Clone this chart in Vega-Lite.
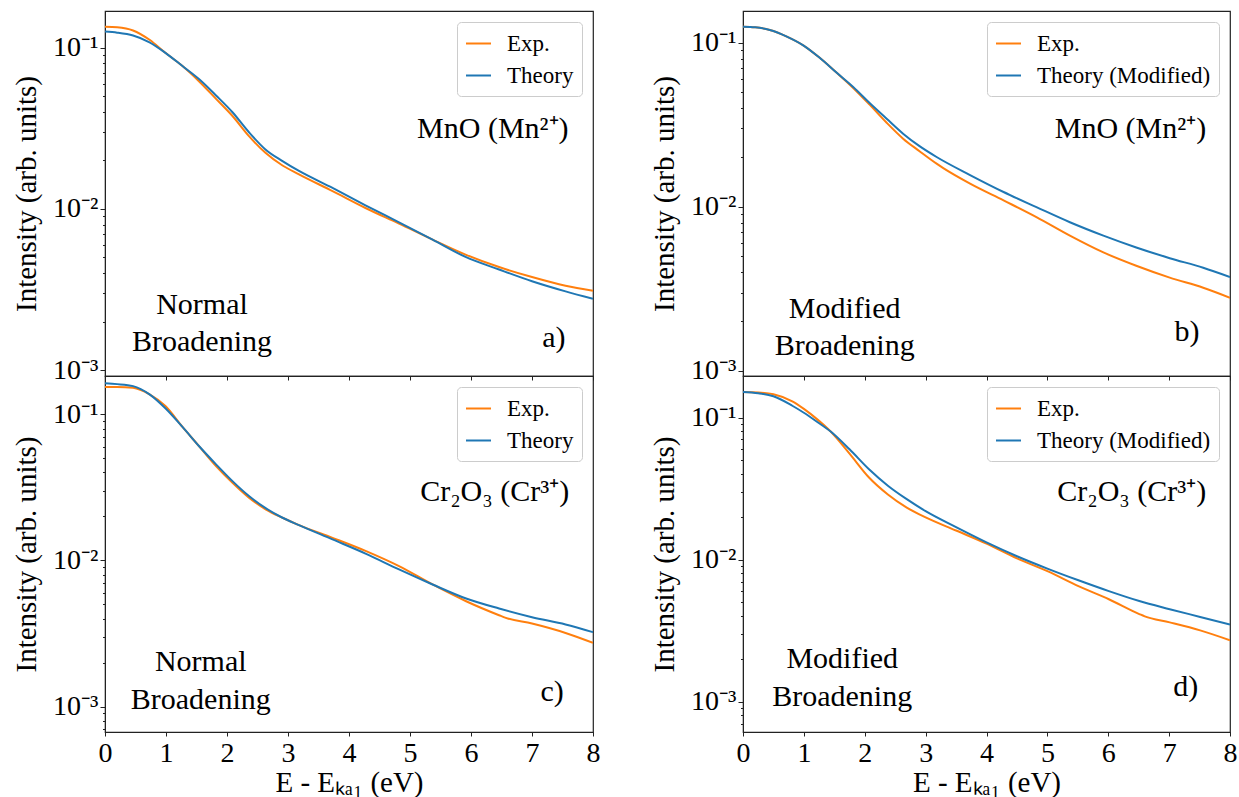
{
  "$schema": "https://vega.github.io/schema/vega-lite/v6.json",
  "background": "white",
  "padding": {"left": 12, "top": 10, "right": 0, "bottom": 2},
  "spacing": 49,
  "datasets": {
    "curves": [
      {"panel":"a","series":"Exp.","x":0,"I":0.135},{"panel":"a","series":"Exp.","x":0.2,"I":0.134},{"panel":"a","series":"Exp.","x":0.46,"I":0.128},{"panel":"a","series":"Exp.","x":0.73,"I":0.112},{"panel":"a","series":"Exp.","x":0.99,"I":0.093},{"panel":"a","series":"Exp.","x":1.27,"I":0.077},{"panel":"a","series":"Exp.","x":1.54,"I":0.062},{"panel":"a","series":"Exp.","x":1.82,"I":0.0482},{"panel":"a","series":"Exp.","x":2.09,"I":0.0377},{"panel":"a","series":"Exp.","x":2.36,"I":0.0283},{"panel":"a","series":"Exp.","x":2.63,"I":0.0223},{"panel":"a","series":"Exp.","x":2.91,"I":0.0186},{"panel":"a","series":"Exp.","x":3.18,"I":0.0164},{"panel":"a","series":"Exp.","x":3.73,"I":0.0129},{"panel":"a","series":"Exp.","x":4.27,"I":0.01014},{"panel":"a","series":"Exp.","x":4.82,"I":0.00811},{"panel":"a","series":"Exp.","x":5.37,"I":0.00645},{"panel":"a","series":"Exp.","x":5.91,"I":0.00521},{"panel":"a","series":"Exp.","x":6.46,"I":0.00436},{"panel":"a","series":"Exp.","x":7.0,"I":0.00378},{"panel":"a","series":"Exp.","x":7.55,"I":0.00334},{"panel":"a","series":"Exp.","x":8.0,"I":0.00311},
      {"panel":"a","series":"Theory","x":0,"I":0.126},{"panel":"a","series":"Theory","x":0.2,"I":0.124},{"panel":"a","series":"Theory","x":0.46,"I":0.119},{"panel":"a","series":"Theory","x":0.73,"I":0.108},{"panel":"a","series":"Theory","x":0.99,"I":0.093},{"panel":"a","series":"Theory","x":1.27,"I":0.077},{"panel":"a","series":"Theory","x":1.54,"I":0.064},{"panel":"a","series":"Theory","x":1.82,"I":0.0506},{"panel":"a","series":"Theory","x":2.09,"I":0.0398},{"panel":"a","series":"Theory","x":2.36,"I":0.0299},{"panel":"a","series":"Theory","x":2.63,"I":0.0234},{"panel":"a","series":"Theory","x":2.91,"I":0.0198},{"panel":"a","series":"Theory","x":3.18,"I":0.0172},{"panel":"a","series":"Theory","x":3.73,"I":0.0135},{"panel":"a","series":"Theory","x":4.27,"I":0.01054},{"panel":"a","series":"Theory","x":4.82,"I":0.00826},{"panel":"a","series":"Theory","x":5.37,"I":0.00645},{"panel":"a","series":"Theory","x":5.91,"I":0.00504},{"panel":"a","series":"Theory","x":6.46,"I":0.00421},{"panel":"a","series":"Theory","x":7.0,"I":0.00356},{"panel":"a","series":"Theory","x":7.55,"I":0.00308},{"panel":"a","series":"Theory","x":8.0,"I":0.00277},
      {"panel":"b","series":"Exp.","x":0,"I":0.125},{"panel":"b","series":"Exp.","x":0.2,"I":0.124},{"panel":"b","series":"Exp.","x":0.44,"I":0.1196},{"panel":"b","series":"Exp.","x":0.72,"I":0.109},{"panel":"b","series":"Exp.","x":0.99,"I":0.0964},{"panel":"b","series":"Exp.","x":1.26,"I":0.0809},{"panel":"b","series":"Exp.","x":1.54,"I":0.0655},{"panel":"b","series":"Exp.","x":1.81,"I":0.053},{"panel":"b","series":"Exp.","x":2.08,"I":0.0419},{"panel":"b","series":"Exp.","x":2.36,"I":0.0325},{"panel":"b","series":"Exp.","x":2.63,"I":0.026},{"panel":"b","series":"Exp.","x":2.9,"I":0.0218},{"panel":"b","series":"Exp.","x":3.18,"I":0.0183},{"panel":"b","series":"Exp.","x":3.29,"I":0.0172},{"panel":"b","series":"Exp.","x":3.73,"I":0.01384},{"panel":"b","series":"Exp.","x":4.28,"I":0.01094},{"panel":"b","series":"Exp.","x":4.82,"I":0.00865},{"panel":"b","series":"Exp.","x":5.37,"I":0.00667},{"panel":"b","series":"Exp.","x":5.92,"I":0.00527},{"panel":"b","series":"Exp.","x":6.46,"I":0.00437},{"panel":"b","series":"Exp.","x":7.01,"I":0.0037},{"panel":"b","series":"Exp.","x":7.56,"I":0.00321},{"panel":"b","series":"Exp.","x":8.0,"I":0.00279},
      {"panel":"b","series":"Theory (Modified)","x":0,"I":0.125},{"panel":"b","series":"Theory (Modified)","x":0.2,"I":0.124},{"panel":"b","series":"Theory (Modified)","x":0.44,"I":0.1196},{"panel":"b","series":"Theory (Modified)","x":0.72,"I":0.109},{"panel":"b","series":"Theory (Modified)","x":0.99,"I":0.0964},{"panel":"b","series":"Theory (Modified)","x":1.26,"I":0.0809},{"panel":"b","series":"Theory (Modified)","x":1.54,"I":0.0655},{"panel":"b","series":"Theory (Modified)","x":1.81,"I":0.0537},{"panel":"b","series":"Theory (Modified)","x":2.08,"I":0.0429},{"panel":"b","series":"Theory (Modified)","x":2.36,"I":0.0344},{"panel":"b","series":"Theory (Modified)","x":2.63,"I":0.0279},{"panel":"b","series":"Theory (Modified)","x":2.9,"I":0.0234},{"panel":"b","series":"Theory (Modified)","x":3.18,"I":0.0201},{"panel":"b","series":"Theory (Modified)","x":3.73,"I":0.0156},{"panel":"b","series":"Theory (Modified)","x":4.28,"I":0.0123},{"panel":"b","series":"Theory (Modified)","x":4.82,"I":0.00995},{"panel":"b","series":"Theory (Modified)","x":5.37,"I":0.00805},{"panel":"b","series":"Theory (Modified)","x":5.92,"I":0.00667},{"panel":"b","series":"Theory (Modified)","x":6.46,"I":0.00565},{"panel":"b","series":"Theory (Modified)","x":7.01,"I":0.00486},{"panel":"b","series":"Theory (Modified)","x":7.56,"I":0.00425},{"panel":"b","series":"Theory (Modified)","x":8.0,"I":0.00373},
      {"panel":"c","series":"Exp.","x":0,"I":0.154},{"panel":"c","series":"Exp.","x":0.2,"I":0.154},{"panel":"c","series":"Exp.","x":0.46,"I":0.152},{"panel":"c","series":"Exp.","x":0.73,"I":0.137},{"panel":"c","series":"Exp.","x":0.99,"I":0.114},{"panel":"c","series":"Exp.","x":1.27,"I":0.082},{"panel":"c","series":"Exp.","x":1.54,"I":0.0607},{"panel":"c","series":"Exp.","x":1.82,"I":0.0443},{"panel":"c","series":"Exp.","x":2.09,"I":0.034},{"panel":"c","series":"Exp.","x":2.36,"I":0.0269},{"panel":"c","series":"Exp.","x":2.64,"I":0.0223},{"panel":"c","series":"Exp.","x":2.91,"I":0.0196},{"panel":"c","series":"Exp.","x":3.18,"I":0.01745},{"panel":"c","series":"Exp.","x":3.73,"I":0.01429},{"panel":"c","series":"Exp.","x":4.28,"I":0.01159},{"panel":"c","series":"Exp.","x":4.82,"I":0.00915},{"panel":"c","series":"Exp.","x":5.37,"I":0.00685},{"panel":"c","series":"Exp.","x":5.92,"I":0.00526},{"panel":"c","series":"Exp.","x":6.46,"I":0.00422},{"panel":"c","series":"Exp.","x":6.57,"I":0.00405},{"panel":"c","series":"Exp.","x":7.0,"I":0.0037},{"panel":"c","series":"Exp.","x":7.55,"I":0.00319},{"panel":"c","series":"Exp.","x":8.0,"I":0.00273},
      {"panel":"c","series":"Theory","x":0,"I":0.163},{"panel":"c","series":"Theory","x":0.2,"I":0.161},{"panel":"c","series":"Theory","x":0.46,"I":0.156},{"panel":"c","series":"Theory","x":0.73,"I":0.137},{"panel":"c","series":"Theory","x":0.99,"I":0.11},{"panel":"c","series":"Theory","x":1.27,"I":0.082},{"panel":"c","series":"Theory","x":1.54,"I":0.0607},{"panel":"c","series":"Theory","x":1.82,"I":0.0455},{"panel":"c","series":"Theory","x":2.09,"I":0.0349},{"panel":"c","series":"Theory","x":2.36,"I":0.0276},{"panel":"c","series":"Theory","x":2.64,"I":0.0227},{"panel":"c","series":"Theory","x":2.91,"I":0.0196},{"panel":"c","series":"Theory","x":3.18,"I":0.01745},{"panel":"c","series":"Theory","x":3.73,"I":0.01393},{"panel":"c","series":"Theory","x":4.28,"I":0.0111},{"panel":"c","series":"Theory","x":4.82,"I":0.00868},{"panel":"c","series":"Theory","x":5.37,"I":0.00685},{"panel":"c","series":"Theory","x":5.92,"I":0.00549},{"panel":"c","series":"Theory","x":6.46,"I":0.00469},{"panel":"c","series":"Theory","x":7.0,"I":0.00409},{"panel":"c","series":"Theory","x":7.55,"I":0.00365},{"panel":"c","series":"Theory","x":8.0,"I":0.00323},
      {"panel":"d","series":"Exp.","x":0,"I":0.151},{"panel":"d","series":"Exp.","x":0.25,"I":0.15},{"panel":"d","series":"Exp.","x":0.5,"I":0.146},{"panel":"d","series":"Exp.","x":0.81,"I":0.13},{"panel":"d","series":"Exp.","x":1.0,"I":0.115},{"panel":"d","series":"Exp.","x":1.22,"I":0.097},{"panel":"d","series":"Exp.","x":1.44,"I":0.0796},{"panel":"d","series":"Exp.","x":1.75,"I":0.0557},{"panel":"d","series":"Exp.","x":2.07,"I":0.0378},{"panel":"d","series":"Exp.","x":2.38,"I":0.0287},{"panel":"d","series":"Exp.","x":2.69,"I":0.0232},{"panel":"d","series":"Exp.","x":3.0,"I":0.0198},{"panel":"d","series":"Exp.","x":3.5,"I":0.016},{"panel":"d","series":"Exp.","x":4.0,"I":0.01294},{"panel":"d","series":"Exp.","x":4.5,"I":0.0102},{"panel":"d","series":"Exp.","x":5.01,"I":0.00824},{"panel":"d","series":"Exp.","x":5.51,"I":0.00649},{"panel":"d","series":"Exp.","x":6.01,"I":0.00525},{"panel":"d","series":"Exp.","x":6.51,"I":0.00413},{"panel":"d","series":"Exp.","x":6.6,"I":0.00398},{"panel":"d","series":"Exp.","x":7.01,"I":0.00361},{"panel":"d","series":"Exp.","x":7.51,"I":0.00317},{"panel":"d","series":"Exp.","x":8.0,"I":0.0027},
      {"panel":"d","series":"Theory (Modified)","x":0,"I":0.151},{"panel":"d","series":"Theory (Modified)","x":0.25,"I":0.148},{"panel":"d","series":"Theory (Modified)","x":0.5,"I":0.141},{"panel":"d","series":"Theory (Modified)","x":0.81,"I":0.121},{"panel":"d","series":"Theory (Modified)","x":1.0,"I":0.108},{"panel":"d","series":"Theory (Modified)","x":1.22,"I":0.093},{"panel":"d","series":"Theory (Modified)","x":1.44,"I":0.0796},{"panel":"d","series":"Theory (Modified)","x":1.75,"I":0.0597},{"panel":"d","series":"Theory (Modified)","x":2.07,"I":0.0432},{"panel":"d","series":"Theory (Modified)","x":2.38,"I":0.0331},{"panel":"d","series":"Theory (Modified)","x":2.69,"I":0.0266},{"panel":"d","series":"Theory (Modified)","x":3.0,"I":0.0219},{"panel":"d","series":"Theory (Modified)","x":3.5,"I":0.0169},{"panel":"d","series":"Theory (Modified)","x":4.0,"I":0.0132},{"panel":"d","series":"Theory (Modified)","x":4.5,"I":0.01055},{"panel":"d","series":"Theory (Modified)","x":5.01,"I":0.0086},{"panel":"d","series":"Theory (Modified)","x":5.51,"I":0.00714},{"panel":"d","series":"Theory (Modified)","x":6.01,"I":0.00599},{"panel":"d","series":"Theory (Modified)","x":6.51,"I":0.0051},{"panel":"d","series":"Theory (Modified)","x":7.01,"I":0.00447},{"panel":"d","series":"Theory (Modified)","x":7.51,"I":0.00394},{"panel":"d","series":"Theory (Modified)","x":8.0,"I":0.00348}
    ]
  },
  "hconcat": [
    {
      "bounds": "flush",
      "spacing": 0,
      "vconcat": [
        {
          "width": 488, "height": 365,
          "layer": [
            {
              "data": {"name": "curves"},
              "transform": [{"filter": "datum.panel === 'a'"}],
              "mark": {"type": "line", "strokeWidth": 2, "interpolate": "monotone", "clip": true},
              "encoding": {
                "x": {"field": "x", "type": "quantitative", "scale": {"domain": [0, 8], "nice": false, "zero": false},
                      "axis": {"values": [0,1,2,3,4,5,6,7,8], "labels": false, "title": null, "tickSize": 4}},
                "y": {"field": "I", "type": "quantitative", "scale": {"type": "log", "domain": [0.00092, 0.169], "nice": false},
                      "axis": {"title": "Intensity (arb. units)", "values": [0.001,0.002,0.003,0.004,0.005,0.006,0.007,0.008,0.009,0.01,0.02,0.03,0.04,0.05,0.06,0.07,0.08,0.09,0.1],
                               "labelExpr": "datum.value == 0.1 ? '10⁻¹' : datum.value == 0.01 ? '10⁻²' : datum.value == 0.001 ? '10⁻³' : ''",
                               "tickSize": {"condition": {"test": "datum.value == 0.1 || datum.value == 0.01 || datum.value == 0.001", "value": 5}, "value": 2.5}}},
                "color": {"field": "series", "type": "nominal", "scale": {"domain": ["Exp.", "Theory"], "range": ["#ff7f0e", "#1f77b4"]}, "legend": {"title": null}}
              }
            },
            {
              "data": {"values": [{"x": 7.6, "I": 0.0275, "label": "MnO (Mn²⁺)"}, {"x": 7.55, "I": 0.0014, "label": "a)"}]},
              "mark": {"type": "text", "align": "right", "baseline": "alphabetic", "fontSize": 30, "font": "Liberation Serif", "color": "black"},
              "encoding": {"x": {"field": "x", "type": "quantitative"}, "y": {"field": "I", "type": "quantitative"}, "text": {"field": "label"}}
            },
            {
              "data": {"values": [{"x": 1.59, "I": 0.00222, "label": "Normal\nBroadening"}]},
              "mark": {"type": "text", "align": "center", "baseline": "alphabetic", "fontSize": 30, "lineHeight": 37, "lineBreak": "\n", "font": "Liberation Serif", "color": "black"},
              "encoding": {"x": {"field": "x", "type": "quantitative"}, "y": {"field": "I", "type": "quantitative"}, "text": {"field": "label"}}
            }
          ]
        },
        {
          "width": 488, "height": 356,
          "layer": [
            {
              "data": {"name": "curves"},
              "transform": [{"filter": "datum.panel === 'c'"}],
              "mark": {"type": "line", "strokeWidth": 2, "interpolate": "monotone", "clip": true},
              "encoding": {
                "x": {"field": "x", "type": "quantitative", "scale": {"domain": [0, 8], "nice": false, "zero": false},
                      "axis": {"values": [0,1,2,3,4,5,6,7,8], "format": "d", "title": "E - Eₖₐ₁ (eV)", "tickSize": 4, "labelFlush": false, "labelPadding": 3, "titlePadding": 1}},
                "y": {"field": "I", "type": "quantitative", "scale": {"type": "log", "domain": [0.00067, 0.183], "nice": false},
                      "axis": {"title": "Intensity (arb. units)", "values": [0.0007,0.0008,0.0009,0.001,0.002,0.003,0.004,0.005,0.006,0.007,0.008,0.009,0.01,0.02,0.03,0.04,0.05,0.06,0.07,0.08,0.09,0.1],
                               "labelExpr": "datum.value == 0.1 ? '10⁻¹' : datum.value == 0.01 ? '10⁻²' : datum.value == 0.001 ? '10⁻³' : ''",
                               "tickSize": {"condition": {"test": "datum.value == 0.1 || datum.value == 0.01 || datum.value == 0.001", "value": 5}, "value": 2.5}}},
                "color": {"field": "series", "type": "nominal", "scale": {"domain": ["Exp.", "Theory"], "range": ["#ff7f0e", "#1f77b4"]}, "legend": {"title": null}}
              }
            },
            {
              "data": {"values": [{"x": 7.61, "I": 0.0255, "label": "Cr₂O₃ (Cr³⁺)"}, {"x": 7.52, "I": 0.00109, "label": "c)"}]},
              "mark": {"type": "text", "align": "right", "baseline": "alphabetic", "fontSize": 30, "font": "Liberation Serif", "color": "black"},
              "encoding": {"x": {"field": "x", "type": "quantitative"}, "y": {"field": "I", "type": "quantitative"}, "text": {"field": "label"}}
            },
            {
              "data": {"values": [{"x": 1.57, "I": 0.00175, "label": "Normal\nBroadening"}]},
              "mark": {"type": "text", "align": "center", "baseline": "alphabetic", "fontSize": 30, "lineHeight": 38, "lineBreak": "\n", "font": "Liberation Serif", "color": "black"},
              "encoding": {"x": {"field": "x", "type": "quantitative"}, "y": {"field": "I", "type": "quantitative"}, "text": {"field": "label"}}
            }
          ]
        }
      ],
      "resolve": {"scale": {"x": "independent", "y": "independent", "color": "independent"}, "legend": {"color": "independent"}, "axis": {"x": "independent", "y": "independent"}}
    },
    {
      "bounds": "flush",
      "spacing": 0,
      "vconcat": [
        {
          "width": 487, "height": 365,
          "layer": [
            {
              "data": {"name": "curves"},
              "transform": [{"filter": "datum.panel === 'b'"}],
              "mark": {"type": "line", "strokeWidth": 2, "interpolate": "monotone", "clip": true},
              "encoding": {
                "x": {"field": "x", "type": "quantitative", "scale": {"domain": [0, 8], "nice": false, "zero": false},
                      "axis": {"values": [0,1,2,3,4,5,6,7,8], "labels": false, "title": null, "tickSize": 4}},
                "y": {"field": "I", "type": "quantitative", "scale": {"type": "log", "domain": [0.00093, 0.156], "nice": false},
                      "axis": {"title": "Intensity (arb. units)", "values": [0.001,0.002,0.003,0.004,0.005,0.006,0.007,0.008,0.009,0.01,0.02,0.03,0.04,0.05,0.06,0.07,0.08,0.09,0.1],
                               "labelExpr": "datum.value == 0.1 ? '10⁻¹' : datum.value == 0.01 ? '10⁻²' : datum.value == 0.001 ? '10⁻³' : ''",
                               "tickSize": {"condition": {"test": "datum.value == 0.1 || datum.value == 0.01 || datum.value == 0.001", "value": 5}, "value": 2.5}}},
                "color": {"field": "series", "type": "nominal", "scale": {"domain": ["Exp.", "Theory (Modified)"], "range": ["#ff7f0e", "#1f77b4"]}, "legend": {"title": null}}
              }
            },
            {
              "data": {"values": [{"x": 7.61, "I": 0.0264, "label": "MnO (Mn²⁺)"}, {"x": 7.5, "I": 0.00152, "label": "b)"}]},
              "mark": {"type": "text", "align": "right", "baseline": "alphabetic", "fontSize": 30, "font": "Liberation Serif", "color": "black"},
              "encoding": {"x": {"field": "x", "type": "quantitative"}, "y": {"field": "I", "type": "quantitative"}, "text": {"field": "label"}}
            },
            {
              "data": {"values": [{"x": 1.67, "I": 0.0021, "label": "Modified\nBroadening"}]},
              "mark": {"type": "text", "align": "center", "baseline": "alphabetic", "fontSize": 30, "lineHeight": 37, "lineBreak": "\n", "font": "Liberation Serif", "color": "black"},
              "encoding": {"x": {"field": "x", "type": "quantitative"}, "y": {"field": "I", "type": "quantitative"}, "text": {"field": "label"}}
            }
          ]
        },
        {
          "width": 487, "height": 356,
          "layer": [
            {
              "data": {"name": "curves"},
              "transform": [{"filter": "datum.panel === 'd'"}],
              "mark": {"type": "line", "strokeWidth": 2, "interpolate": "monotone", "clip": true},
              "encoding": {
                "x": {"field": "x", "type": "quantitative", "scale": {"domain": [0, 8], "nice": false, "zero": false},
                      "axis": {"values": [0,1,2,3,4,5,6,7,8], "format": "d", "title": "E - Eₖₐ₁ (eV)", "tickSize": 4, "labelFlush": false, "labelPadding": 3, "titlePadding": 1}},
                "y": {"field": "I", "type": "quantitative", "scale": {"type": "log", "domain": [0.00061, 0.196], "nice": false},
                      "axis": {"title": "Intensity (arb. units)", "values": [0.0007,0.0008,0.0009,0.001,0.002,0.003,0.004,0.005,0.006,0.007,0.008,0.009,0.01,0.02,0.03,0.04,0.05,0.06,0.07,0.08,0.09,0.1],
                               "labelExpr": "datum.value == 0.1 ? '10⁻¹' : datum.value == 0.01 ? '10⁻²' : datum.value == 0.001 ? '10⁻³' : ''",
                               "tickSize": {"condition": {"test": "datum.value == 0.1 || datum.value == 0.01 || datum.value == 0.001", "value": 5}, "value": 2.5}}},
                "color": {"field": "series", "type": "nominal", "scale": {"domain": ["Exp.", "Theory (Modified)"], "range": ["#ff7f0e", "#1f77b4"]}, "legend": {"title": null}}
              }
            },
            {
              "data": {"values": [{"x": 7.61, "I": 0.0258, "label": "Cr₂O₃ (Cr³⁺)"}, {"x": 7.48, "I": 0.00109, "label": "d)"}]},
              "mark": {"type": "text", "align": "right", "baseline": "alphabetic", "fontSize": 30, "font": "Liberation Serif", "color": "black"},
              "encoding": {"x": {"field": "x", "type": "quantitative"}, "y": {"field": "I", "type": "quantitative"}, "text": {"field": "label"}}
            },
            {
              "data": {"values": [{"x": 1.63, "I": 0.00172, "label": "Modified\nBroadening"}]},
              "mark": {"type": "text", "align": "center", "baseline": "alphabetic", "fontSize": 30, "lineHeight": 38, "lineBreak": "\n", "font": "Liberation Serif", "color": "black"},
              "encoding": {"x": {"field": "x", "type": "quantitative"}, "y": {"field": "I", "type": "quantitative"}, "text": {"field": "label"}}
            }
          ]
        }
      ],
      "resolve": {"scale": {"x": "independent", "y": "independent", "color": "independent"}, "legend": {"color": "independent"}, "axis": {"x": "independent", "y": "independent"}}
    }
  ],
  "resolve": {"scale": {"x": "independent", "y": "independent", "color": "independent"}, "legend": {"color": "independent"}, "axis": {"x": "independent", "y": "independent"}},
  "config": {
    "font": "Liberation Serif",
    "view": {"stroke": "#222222", "strokeWidth": 1.2},
    "axis": {
      "labelFont": "Liberation Serif", "titleFont": "Liberation Serif",
      "labelColor": "#000000", "titleColor": "#000000", "titleFontWeight": "normal",
      "labelFontSize": 28, "titleFontSize": 29,
      "domainColor": "#222222", "tickColor": "#222222", "grid": false,
      "labelOverlap": false
    },
    "axisY": {"labelPadding": 2, "titlePadding": 11},
    "legend": {
      "orient": "top-right", "offset": 11,
      "strokeColor": "#cccccc", "fillColor": "rgba(255,255,255,0.85)", "cornerRadius": 4,
      "padding": 8, "symbolType": "stroke", "symbolStrokeWidth": 2, "symbolSize": 625,
      "labelFont": "Liberation Serif", "labelFontSize": 23, "labelColor": "#000000",
      "labelOffset": 15, "rowPadding": 6, "labelLimit": 400
    }
  }
}
